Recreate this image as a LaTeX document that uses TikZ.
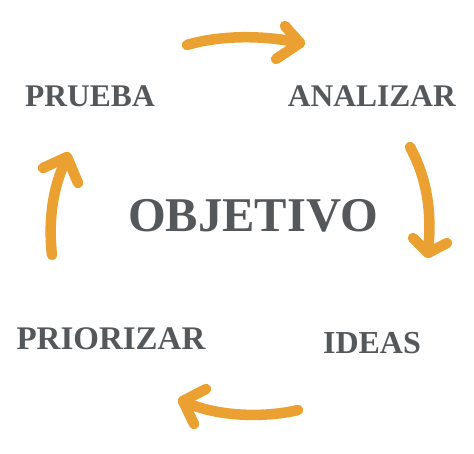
\documentclass[tikz,border=0pt]{standalone}
\usepackage{fontspec}
\setmainfont{Liberation Serif}
\definecolor{arr}{HTML}{EBA032}
\definecolor{txt}{HTML}{55585B}
\begin{document}
\begin{tikzpicture}[x=1pt,y=-1pt,
  lbl/.style={text=txt,font=\bfseries,inner sep=0pt,anchor=center},
  arw/.style={draw=arr,line width=10.5pt,line cap=round,line join=round}]
\useasboundingbox (0,0) rectangle (474,454);
\node[lbl,font=\bfseries\fontsize{31.5}{31.5}\selectfont] (prueba) at (90,96) {PRUEBA};
\node[lbl,font=\bfseries\fontsize{31.5}{31.5}\selectfont] (analizar) at (372,96) {ANALIZAR};
\node[lbl,font=\bfseries\fontsize{33}{33}\selectfont] (priorizar) at (111,339) {PRIORIZAR};
\node[lbl,font=\bfseries\fontsize{32}{32}\selectfont] (ideas) at (372,343) {IDEAS};
\node[lbl,font=\bfseries\fontsize{48.5}{48.5}\selectfont] (obj) at (253,216) {OBJETIVO};
% top arrow
\draw[arw] (187,45) .. controls (220,35) and (265,35) .. (300,43);
\draw[arw] (285,26) -- (300,43) -- (276,59);
% right arrow
\draw[arw] (410,147) .. controls (428,180) and (432,215) .. (428,252);
\draw[arw] (413,238) -- (428,253) -- (447,243);
% bottom arrow
\draw[arw] (298,410) .. controls (265,418) and (215,417) .. (183,401);
\draw[arw] (206,389) -- (183,401) -- (194,424);
% left arrow
\draw[arw] (52,255) .. controls (48,220) and (53,185) .. (67,158);
\draw[arw] (43,168) -- (67,157) -- (78,183);
\end{tikzpicture}
\end{document}
